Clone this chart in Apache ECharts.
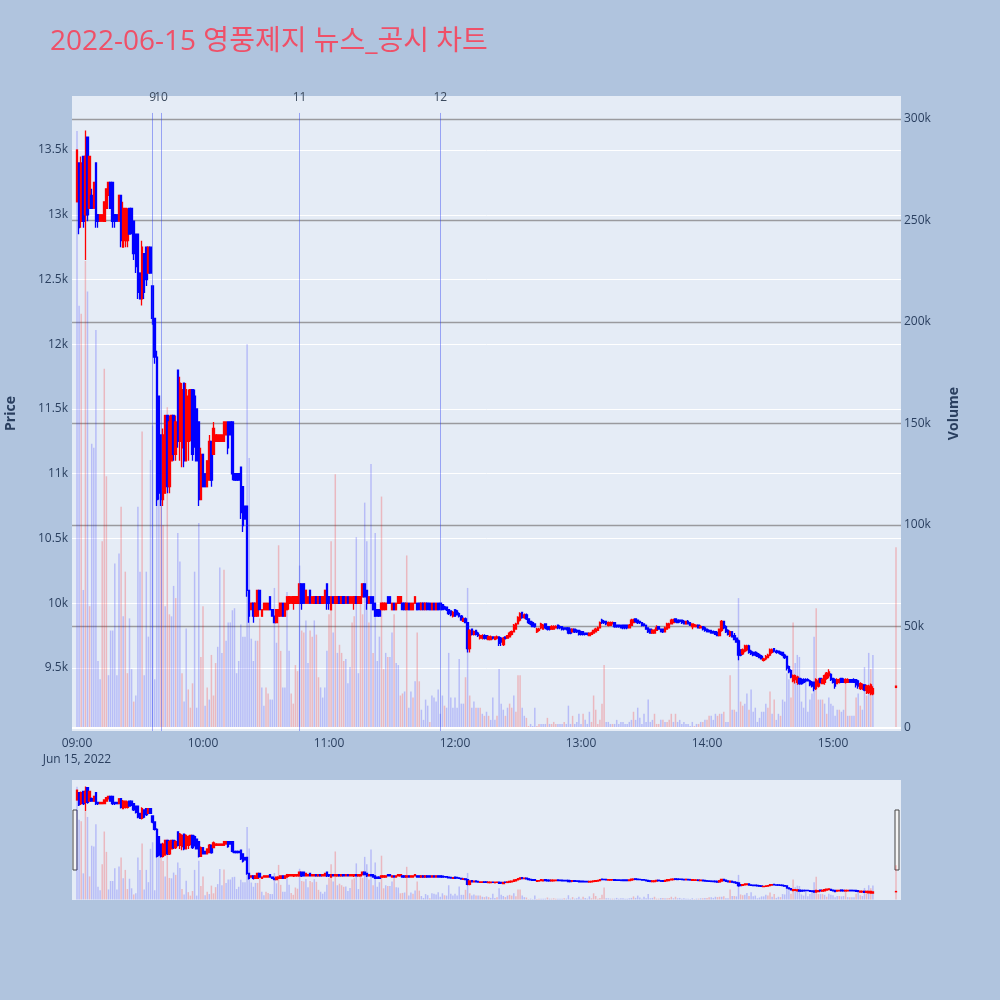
<!DOCTYPE html>
<html>
<head>
<meta charset="utf-8">
<script src="https://cdn.jsdelivr.net/npm/echarts@6/dist/echarts.min.js"></script>
<style>
html,body{margin:0;padding:0;background:#b0c4de;}
#chart{width:1000px;height:1000px;}
</style>
</head>
<body>
<div id="chart"></div>
<script>
// ---------------- DATA ----------------
const chartTitle = '2022-06-15 영풍제지 뉴스_공시 차트';
const dateLabel = 'Jun 15, 2022';
const hourStarts = ['09:00', '10:00', '11:00', '12:00', '13:00', '14:00', '15:00'];
const timeTicks = ['09:00', '10:00', '11:00', '12:00', '13:00', '14:00', '15:00'];
const priceTicks = [9500, 10000, 10500, 11000, 11500, 12000, 12500, 13000, 13500];
const volumeTicks = [0, 50, 100, 150, 200, 250, 300]; // thousands
const newsLabels = ['9', '10', '11', '12'];
const newsTimes = ['09:36', '09:40', '10:46', '11:53'];

// one-minute candles [open, high, low, close]
const ohlc09 = [
[13100,13500,13100,13500],[13400,13400,12850,12900],[12950,13450,12900,13400],[13450,13450,12900,12950],[13000,13650,12650,13450],
[13600,13600,12950,13000],[13050,13450,13050,13450],[13150,13200,13050,13050],[13050,13250,13050,13250],[13400,13400,12900,12950],
[13000,13000,12900,12950],[12950,13000,12950,13000],[12950,13000,12950,13000],[12950,13100,12950,13100],[13050,13200,13050,13200],
[13150,13250,13150,13250],[13250,13250,13050,13050],[13250,13250,12900,12950],[13000,13000,12900,12950],[13000,13000,12950,12950],
[12950,13150,12950,13150],[13150,13150,12750,12800],[12750,13100,12750,13050],[12800,13050,12750,13050],[12800,13050,12750,13000],
[13050,13050,12850,12850],[13050,13050,12850,12900],[12950,12950,12650,12700],[12850,12850,12550,12600],[12850,12850,12350,12400],
[12550,12550,12350,12350],[12350,12800,12300,12750],[12700,12700,12350,12400],[12750,12750,12450,12500],[12550,12750,12550,12750],
[12750,12750,12550,12550],[12450,12450,12150,12200],[12200,12200,11850,11900],[11900,11950,10750,10800],[11600,11600,10800,10850],
[11300,11300,10750,10800],[10800,11350,10750,11300],[10850,11450,10850,11450],[11450,11450,10850,10900],[10900,11450,10850,11400],
[11100,11450,11100,11450],[11450,11450,11100,11150],[11150,11450,11100,11400],[11800,11800,11200,11250],[11250,11750,11100,11700],
[11200,11700,11050,11650],[11700,11700,11050,11100],[11100,11700,11100,11650],[11250,11650,11100,11600],[11300,11650,11250,11650],
[11650,11650,11100,11150],[11600,11650,11200,11250],[11500,11500,11100,11100],[11400,11400,10750,10800],[10800,11200,10800,11150]
];
const ohlc10 = [
[11150,11150,10900,10900],[11000,11000,10900,10900],[10900,11100,10900,11100],[10950,11300,10950,11250],[11250,11250,10900,10950],
[11150,11400,11150,11350],[11250,11300,11250,11300],[11250,11300,11250,11300],[11250,11300,11250,11300],[11250,11300,11250,11300],
[11250,11400,11250,11400],[11300,11400,11300,11400],[11400,11400,11150,11200],[11400,11400,11300,11300],[11400,11400,10950,11000],
[11000,11000,10950,10950],[11000,11000,10950,10950],[11000,11000,10950,10950],[11050,11050,10650,10700],[10900,10900,10550,10600],
[10750,10750,10650,10650],[10750,10750,10050,10100],[10100,10100,9850,9900],[9950,10000,9950,10000],[10000,10000,9850,9900],
[9900,10000,9900,10000],[9900,10100,9900,10100],[10100,10100,9950,9950],[9900,9950,9900,9950],[9950,10000,9950,10000],
[9950,10000,9950,10000],[9950,10000,9950,10000],[10050,10050,9950,9950],[9950,9950,9900,9900],[9900,9900,9850,9850],
[9850,9950,9850,9950],[9900,9950,9900,9950],[9900,10000,9900,10000],[10000,10000,9900,9900],[9900,10000,9900,10000],
[9950,10050,9950,10050],[10000,10050,9950,10050],[10000,10050,10000,10050],[10000,10050,9950,10050],[10000,10050,10000,10050],
[10000,10050,10000,10050],[10000,10150,10000,10150],[10150,10150,9950,10000],[10150,10150,10000,10000],[10000,10100,10000,10100],
[10000,10050,10000,10050],[10100,10100,10000,10000],[10000,10050,10000,10050],[10000,10050,10000,10050],[10050,10050,10000,10000],
[10000,10050,10000,10050],[10050,10050,10000,10000],[10000,10050,10000,10050],[10000,10100,10000,10100],[10150,10150,9950,10000]
];
const ohlc11 = [
[10050,10050,9950,10000],[9950,10050,9950,10050],[10050,10050,10000,10000],[10000,10050,10000,10050],[10000,10050,10000,10050],
[10050,10050,10000,10000],[10000,10050,10000,10050],[10050,10050,10000,10000],[10000,10050,10000,10050],[10050,10050,10000,10000],
[10000,10050,10000,10050],[10000,10050,10000,10050],[10000,10050,9950,10050],[10050,10050,10000,10000],[10000,10050,10000,10050],
[10000,10050,10000,10050],[10050,10150,10050,10150],[10150,10150,10050,10050],[10100,10100,9950,10000],[10000,10050,10000,10050],
[10050,10050,10000,10000],[10050,10050,9950,9950],[10000,10000,9900,9900],[9950,9950,9900,9900],[9950,9950,9900,9900],
[9950,10000,9950,10000],[9950,10000,9950,10000],[9950,10000,9950,10000],[10050,10050,10000,10000],[10050,10050,10000,10000],
[9950,10000,9950,10000],[10000,10000,9950,9950],[9950,10000,9950,10000],[10000,10050,10000,10050],[10000,10050,10000,10050],
[10000,10000,9950,9950],[10000,10000,9950,9950],[9950,10000,9950,10000],[10000,10000,9950,9950],[9950,10000,9950,10000],
[9950,10000,9950,10000],[10000,10050,10000,10050],[10000,10000,9950,9950],[10000,10000,9950,9950],[9950,10000,9950,10000],
[10000,10000,9950,9950],[9950,10000,9950,10000],[10000,10000,9950,9950],[10000,10000,9950,9950],[9950,10000,9950,10000],
[10000,10000,9950,9950],[9950,10000,9950,10000],[10000,10000,9950,9950],[10000,10000,9950,9950],[9990,9990,9950,9950],
[9970,9980,9950,9960],[9970,9970,9940,9950],[9950,9950,9910,9920],[9940,9940,9900,9910],[9900,9940,9890,9930]
];
const ohlc12 = [
[9950,9950,9900,9900],[9940,9950,9910,9910],[9920,9930,9890,9900],[9900,9910,9870,9870],[9860,9890,9860,9880],
[9880,9890,9850,9850],[9850,9850,9620,9650],[9650,9800,9620,9790],[9800,9800,9750,9760],[9760,9790,9750,9780],
[9790,9790,9750,9760],[9770,9780,9740,9750],[9730,9760,9720,9750],[9730,9760,9720,9750],[9750,9760,9720,9730],
[9750,9750,9720,9730],[9720,9750,9720,9740],[9720,9750,9720,9740],[9740,9740,9720,9730],[9720,9740,9720,9740],
[9730,9750,9720,9740],[9740,9740,9670,9690],[9730,9740,9670,9700],[9680,9740,9670,9730],[9740,9740,9720,9730],
[9730,9750,9730,9750],[9740,9780,9740,9770],[9760,9790,9750,9780],[9780,9840,9780,9830],[9800,9850,9800,9840],
[9840,9900,9840,9890],[9870,9930,9860,9920],[9930,9930,9880,9890],[9890,9920,9880,9910],[9910,9920,9870,9880],
[9880,9880,9840,9850],[9860,9860,9830,9840],[9850,9860,9820,9820],[9840,9840,9810,9820],[9780,9810,9770,9800],
[9790,9810,9780,9800],[9810,9850,9800,9840],[9800,9840,9800,9830],[9840,9840,9800,9810],[9820,9820,9790,9800],
[9820,9820,9790,9800],[9800,9830,9800,9820],[9800,9830,9800,9820],[9810,9830,9810,9820],[9830,9830,9800,9810],
[9820,9830,9800,9810],[9820,9820,9790,9800],[9810,9810,9790,9800],[9810,9810,9790,9800],[9810,9810,9760,9770],
[9800,9800,9760,9770],[9780,9800,9780,9800],[9800,9800,9770,9780],[9790,9800,9770,9780],[9790,9790,9750,9760]
];
const ohlc13 = [
[9780,9790,9750,9760],[9780,9780,9750,9760],[9770,9770,9750,9760],[9770,9770,9750,9760],[9750,9770,9750,9770],
[9760,9780,9760,9770],[9770,9790,9770,9790],[9780,9810,9780,9800],[9790,9820,9790,9810],[9810,9860,9810,9850],
[9870,9880,9840,9850],[9860,9870,9840,9850],[9860,9860,9830,9840],[9830,9860,9820,9850],[9830,9860,9830,9850],
[9840,9860,9840,9850],[9850,9850,9810,9820],[9830,9830,9810,9820],[9830,9830,9810,9820],[9830,9830,9810,9810],
[9830,9830,9800,9810],[9830,9830,9800,9810],[9830,9830,9800,9810],[9810,9840,9810,9830],[9830,9880,9830,9870],
[9850,9880,9850,9870],[9880,9880,9850,9860],[9870,9870,9840,9850],[9860,9860,9840,9850],[9850,9850,9820,9830],
[9840,9840,9820,9830],[9830,9830,9800,9800],[9810,9810,9770,9780],[9800,9800,9770,9770],[9770,9800,9770,9790],
[9770,9800,9770,9790],[9790,9830,9790,9810],[9820,9820,9800,9800],[9800,9800,9780,9780],[9800,9800,9770,9780],
[9780,9820,9780,9810],[9800,9850,9800,9840],[9810,9850,9810,9840],[9840,9880,9840,9870],[9850,9880,9850,9870],
[9880,9880,9850,9860],[9870,9870,9850,9850],[9870,9870,9850,9860],[9870,9870,9840,9850],[9860,9870,9840,9840],
[9840,9860,9840,9860],[9860,9870,9840,9840],[9850,9850,9830,9830],[9820,9840,9800,9840],[9820,9840,9820,9830],
[9820,9830,9820,9830],[9830,9830,9810,9810],[9810,9830,9810,9820],[9820,9820,9790,9800],[9810,9820,9780,9790]
];
const ohlc14 = [
[9800,9800,9780,9780],[9790,9800,9780,9780],[9790,9790,9770,9770],[9780,9790,9770,9770],[9780,9780,9760,9760],
[9770,9780,9750,9750],[9750,9800,9750,9800],[9790,9870,9780,9860],[9860,9860,9800,9810],[9820,9830,9770,9780],
[9790,9800,9750,9760],[9750,9790,9740,9780],[9780,9780,9740,9740],[9750,9770,9720,9720],[9730,9730,9700,9700],
[9710,9720,9560,9600],[9640,9640,9590,9600],[9610,9650,9600,9640],[9630,9680,9620,9670],[9640,9680,9630,9670],
[9670,9680,9610,9620],[9630,9640,9600,9610],[9620,9630,9590,9600],[9620,9630,9590,9600],[9610,9620,9590,9590],
[9600,9610,9580,9580],[9590,9600,9570,9570],[9560,9580,9550,9570],[9570,9600,9560,9590],[9580,9610,9580,9600],
[9600,9650,9590,9640],[9620,9650,9610,9640],[9650,9650,9620,9630],[9630,9640,9610,9620],[9630,9630,9610,9620],
[9620,9630,9600,9610],[9620,9620,9590,9600],[9600,9610,9570,9580],[9590,9590,9480,9500],[9510,9520,9460,9470],
[9480,9490,9420,9430],[9400,9450,9390,9440],[9410,9450,9380,9440],[9390,9440,9370,9430],[9420,9420,9370,9380],
[9410,9420,9370,9380],[9410,9420,9380,9390],[9410,9420,9390,9400],[9410,9420,9400,9400],[9400,9410,9360,9370],
[9390,9400,9350,9360],[9390,9390,9320,9340],[9340,9420,9330,9410],[9360,9420,9350,9400],[9420,9420,9380,9390],
[9380,9420,9380,9410],[9390,9450,9370,9440],[9420,9470,9410,9460],[9440,9490,9420,9470],[9450,9460,9400,9410]
];
const ohlc15 = [
[9420,9420,9380,9390],[9410,9420,9340,9360],[9380,9420,9380,9410],[9390,9420,9380,9410],[9420,9420,9390,9390],
[9410,9420,9390,9390],[9390,9420,9380,9410],[9390,9420,9390,9410],[9410,9410,9390,9390],[9410,9410,9390,9390],
[9410,9420,9390,9390],[9410,9410,9350,9370],[9400,9410,9340,9360],[9340,9390,9330,9380],[9350,9380,9330,9370],
[9370,9370,9320,9330],[9330,9370,9300,9360],[9310,9370,9300,9360],[9300,9380,9290,9370],[9300,9360,9290,9340]
];
// closing auction print
const closeAuctionTime = '15:30';
const closeAuctionOHLC = [9350, 9360, 9350, 9360];
const closeAuctionVolume = 89;
const closeAuctionDir = 'r';

// one-minute volume (thousands of shares) and bar colour (r = up, b = down)
const vol09 = [294,208,204,68,230,215,60,140,138,196, 33,24,92,177,124,26,48,48,81,26, 86,109,55,77,27,54,29,13,16,109,
  77,146,26,77,45,132,149,24,163,114, 112,100,60,158,56,55,70,64,96,82, 27,13,49,19,10,22,77,10,101,35];
const volDir09 = 'bbrbrbrbbb' + 'bbrrrbbbbb' + 'brbrrbbrbb' + 'brbbbbbbbb' + 'rrbrrbbrbb' + 'rbbrrrbbbr';
const vol10 = [60,11,20,14,36,16,32,40,79,37, 78,43,52,52,58,59,27,33,51,45, 45,189,133,44,33,43,43,54,20,11,
  20,17,14,14,69,42,90,38,20,20, 67,38,17,12,31,28,80,48,47,53, 32,48,45,53,46,25,20,15,20,38];
const volDir10 = 'rbrbrrrbbb' + 'rbbbbbbbbb' + 'bbbbbbrrbb' + 'rrbbbbrrbb' + 'bbrrrrbrrb' + 'brrbrrbbbb';
const vol11 = [56,92,47,125,37,41,37,33,34,22, 30,52,55,94,27,63,56,111,92,52, 130,37,96,33,45,114,29,37,35,35,
  47,56,32,31,16,17,18,85,10,18, 15,23,47,23,9,4,14,11,3,16, 15,13,19,7,16,11,10,37,15,10];
const volDir11 = 'rrbrbrrrbb' + 'brrbbrrbbr' + 'brbbbrrbrb' + 'brbbrrbrbb' + 'rbrrbbbbrb' + 'bbbbbrbbbb';
const vol12 = [15,10,34,12,12,25,69,16,10,13, 10,10,10,7,6,8,6,4,15,4, 6,29,12,9,6,10,12,10,16,8,
  26,26,10,6,5,1,2,1,10,1, 2,2,2,2,5,2,2,3,2,2, 2,2,3,2,11,2,6,2,3,7];
const volDir12 = 'bbbbbrbrbb' + 'rbrbrbrbbb' + 'rbbbrbrrbr' + 'rrbbrrbbbr' + 'rbbbrbrrrb' + 'bbrbbbrbbb';
const vol13 = [2,7,4,2,8,3,16,9,2,4, 12,31,3,3,2,2,2,4,2,3, 3,2,2,3,4,8,4,10,5,2,
  7,3,14,3,4,7,2,2,4,4, 3,3,4,7,3,7,3,4,2,3, 2,2,1,3,1,2,2,3,3,4];
const volDir13 = 'brbbbrrrrr' + 'rrbbbrbbbb' + 'bbbbbrbbbb' + 'bbbbbrrrbr' + 'brrrbrbbbb' + 'bbbbrbrbrb';
const vol14 = [4,6,6,4,7,6,7,7,8,3, 3,26,9,9,8,64,13,11,12,17, 9,19,8,10,3,5,8,8,12,10,
  18,7,14,4,7,6,14,13,27,24, 15,52,32,36,35,13,10,23,8,14, 17,45,59,14,14,14,12,7,15,12];
const volDir14 = 'rrbbbrrbrb' + 'brbrbbrrbb' + 'rbbbbbbbbr' + 'rbrbbrbbbb' + 'rrbbbbbbbb' + 'bbrrbrbrbb';
const vol15 = [11,6,9,9,8,9,23,6,6,6, 6,15,17,11,9,30,16,37,29,36];
const volDir15 = 'bbbrbbrbrb' + 'brbrbbrbrb';

// ---------------- BUILD ----------------
const toMin = s => { const p = s.split(':').map(Number); return (p[0] - 9) * 60 + p[1]; };
const ohlcByHour = [ohlc09, ohlc10, ohlc11, ohlc12, ohlc13, ohlc14, ohlc15];
const volByHour = [vol09, vol10, vol11, vol12, vol13, vol14, vol15];
const dirByHour = [volDir09, volDir10, volDir11, volDir12, volDir13, volDir14, volDir15];

const UP = '#ff0000', DOWN = '#0000ff';
const VOL_UP = 'rgba(255,0,0,0.22)', VOL_DOWN = 'rgba(0,0,255,0.2)';

const candleData = [];
const volData = [];   // [minute, volume(k), up?1:0]
ohlcByHour.forEach((rows, h) => {
  const base = toMin(hourStarts[h]);
  rows.forEach((r, j) => {
    const t = base + j;
    candleData.push([t, r[0], r[3], r[2], r[1]]);
    volData.push([t, volByHour[h][j], dirByHour[h][j] === 'r' ? 1 : 0]);
  });
});
{
  const t = toMin(closeAuctionTime);
  const r = closeAuctionOHLC;
  candleData.push([t, r[0], r[3], r[2], r[1]]);
  volData.push([t, closeAuctionVolume, closeAuctionDir === 'r' ? 1 : 0]);
}

// axis ranges (plot frame)
const X_MIN = -2.381, X_MAX = 392.38;
const P_MIN = 9013.5, P_MAX = 13917;
const V_MIN = -1.48, V_MAX = 311.3;
const NEWS_LINE_TOP = 13786;

const FONT = "'Open Sans', 'Noto Sans CJK KR', sans-serif";
const AXIS_COLOR = '#2a3f5f';

const timeTickValues = timeTicks.map(toMin);

const newsLineData = newsTimes.map((t, k) => [
  { name: newsLabels[k], coord: [toMin(t), P_MIN] },
  { coord: [toMin(t), NEWS_LINE_TOP] }
]);

const candleStyle = {
  color: UP, color0: DOWN, borderColor: UP, borderColor0: DOWN,
  borderColorDoji: UP, borderWidth: 1.3
};

function volumeBar(params, api) {
  const t = api.value(0);
  const top = api.coord([t, api.value(1)]);
  const base = api.coord([t, 0]);
  const w = 1.5;
  return {
    type: 'rect',
    shape: { x: top[0] - w / 2, y: top[1], width: w, height: base[1] - top[1] },
    style: { fill: api.value(2) ? VOL_UP : VOL_DOWN }
  };
}

const chart = echarts.init(document.getElementById('chart'), null, { renderer: 'canvas' });
chart.setOption({
  animation: false,
  backgroundColor: '#b0c4de',
  textStyle: { fontFamily: FONT },
  title: {
    text: chartTitle,
    left: 50, top: 28, padding: 0,
    textStyle: { color: '#ef5068', fontSize: 28, fontWeight: 'normal', fontFamily: FONT }
  },
  grid: [
    { left: 72, top: 96, width: 829, height: 635, show: true, backgroundColor: '#e5ecf6', borderWidth: 0,
      containLabel: false, outerBoundsMode: 'none' },
    { left: 72, top: 780, width: 829, height: 120, show: true, backgroundColor: '#e5ecf6', borderWidth: 0,
      containLabel: false, outerBoundsMode: 'none' }
  ],
  xAxis: [
    {
      type: 'value', gridIndex: 0, min: X_MIN, max: X_MAX,
      axisLine: { show: false }, axisTick: { show: false, customValues: timeTickValues },
      splitLine: { show: false },
      axisLabel: {
        customValues: timeTickValues, color: AXIS_COLOR, fontSize: 12, margin: 5, lineHeight: 16,
        formatter: v => {
          const k = timeTickValues.indexOf(v);
          const s = k >= 0 ? timeTicks[k] : '';
          return k === 0 ? s + '\n' + dateLabel : s;
        }
      }
    },
    { type: 'value', gridIndex: 1, min: X_MIN, max: X_MAX, show: false }
  ],
  yAxis: [
    {
      type: 'value', gridIndex: 0, position: 'left', min: P_MIN, max: P_MAX,
      name: 'Price', nameLocation: 'middle', nameGap: 54, nameRotate: 90,
      nameTextStyle: { color: AXIS_COLOR, fontWeight: 'bold', fontSize: 14, fontFamily: FONT },
      axisLine: { show: false },
      axisTick: { show: false, customValues: priceTicks },
      axisLabel: { customValues: priceTicks, color: AXIS_COLOR, fontSize: 12, margin: 4,
        formatter: v => (v / 1000) + 'k' },
      splitLine: { show: true, lineStyle: { color: '#ffffff', width: 1 } }
    },
    {
      type: 'value', gridIndex: 0, position: 'right', min: V_MIN, max: V_MAX,
      name: 'Volume', nameLocation: 'middle', nameGap: 46, nameRotate: 90,
      nameTextStyle: { color: AXIS_COLOR, fontWeight: 'bold', fontSize: 14, fontFamily: FONT },
      axisLine: { show: false },
      axisTick: { show: false, customValues: volumeTicks.filter(v => v !== 0) },
      axisLabel: { customValues: volumeTicks, color: AXIS_COLOR, fontSize: 12, margin: 3,
        formatter: v => v === 0 ? '0' : v + 'k' },
      splitLine: { show: true, lineStyle: { color: '#9a9a9e', width: 1.4 } }
    },
    { type: 'value', gridIndex: 1, min: P_MIN, max: P_MAX, show: false },
    { type: 'value', gridIndex: 1, min: V_MIN, max: V_MAX, show: false }
  ],
  series: [
    {
      type: 'custom', name: 'Volume', xAxisIndex: 0, yAxisIndex: 1, z: 1,
      renderItem: volumeBar, encode: { x: 0, y: 1 }, data: volData, clip: true,
      markLine: {
        silent: true, symbol: 'none', label: { show: false },
        lineStyle: { color: '#ffffff', width: 2, type: 'solid' },
        data: [{ yAxis: 0 }]
      }
    },
    {
      type: 'line', name: 'news', xAxisIndex: 0, yAxisIndex: 0, z: 2, data: [],
      markLine: {
        silent: true, symbol: 'none',
        lineStyle: { color: 'rgba(40,60,240,0.42)', width: 1, type: 'solid' },
        label: { show: true, position: 'end', distance: 9, formatter: '{b}', color: '#3b4a5e', fontSize: 12, fontFamily: FONT },
        data: newsLineData
      }
    },
    {
      type: 'candlestick', name: 'Price', xAxisIndex: 0, yAxisIndex: 0, z: 3,
      encode: { x: 0, y: [1, 2, 3, 4] },
      barWidth: 2, itemStyle: candleStyle, data: candleData
    },
    {
      type: 'custom', xAxisIndex: 1, yAxisIndex: 3, z: 1, silent: true,
      renderItem: volumeBar, encode: { x: 0, y: 1 }, data: volData, clip: true
    },
    {
      type: 'candlestick', xAxisIndex: 1, yAxisIndex: 2, z: 3, silent: true,
      encode: { x: 0, y: [1, 2, 3, 4] },
      barWidth: 2, itemStyle: candleStyle, data: candleData
    }
  ],
  graphic: [
    { type: 'rect', shape: { x: 73, y: 810, width: 4, height: 60 }, style: { fill: '#f4f4f4', stroke: '#444', lineWidth: 1 } },
    { type: 'rect', shape: { x: 895, y: 810, width: 4, height: 60 }, style: { fill: '#f4f4f4', stroke: '#444', lineWidth: 1 } }
  ]
});
</script>
</body>
</html>
